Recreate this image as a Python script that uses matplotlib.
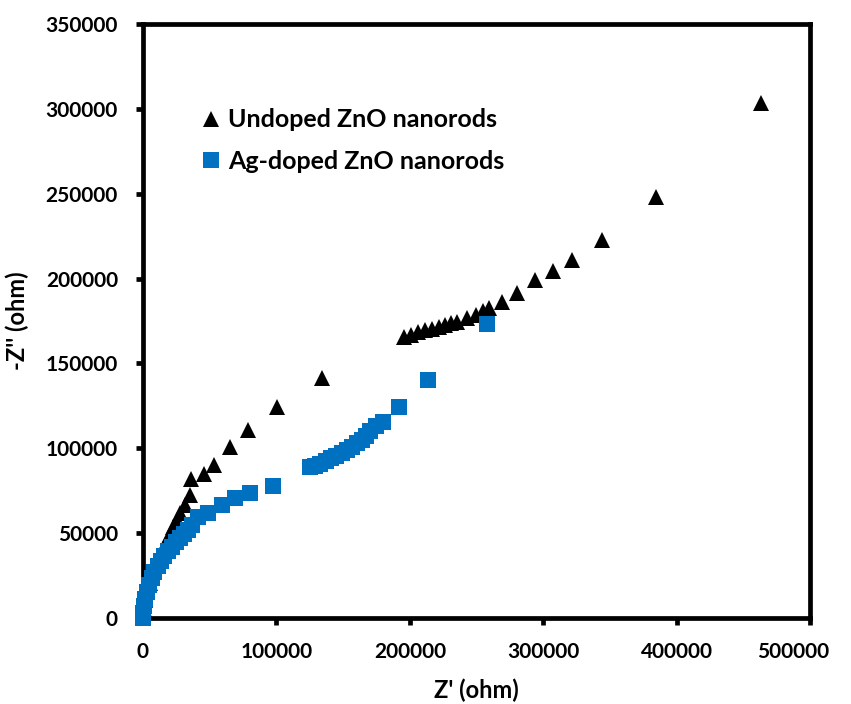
import matplotlib
matplotlib.use("Agg")
import matplotlib.pyplot as plt
import matplotlib.transforms as mtransforms

plt.rcParams['font.family'] = ['Lato', 'DejaVu Sans']
plt.rcParams['font.weight'] = 'bold'

# --------------------------------------------------
# Nyquist data (ohm)
# --------------------------------------------------
z_re_undoped = [0, 800, 1800, 3200, 5000, 7000, 9500, 12000, 14500, 17000, 19500,
                22700, 25200, 27700, 31500, 35200, 35700, 45500, 53500, 65000, 79000,
                100200, 133900, 195500, 201000, 206000, 211500, 216500, 221500, 226500,
                231000, 235500, 243000, 249500, 255000, 259000, 268900, 280100, 293600,
                307100, 321800, 343800, 384300, 463300]
z_im_undoped = [0, 5500, 10500, 15500, 20500, 25500, 30500, 35000, 39500, 44000, 48500,
                53800, 57700, 61700, 66600, 72500, 82000, 84800, 90100, 100900, 110800,
                124100, 141200, 165500, 167000, 168200, 169400, 170500, 171500, 172500,
                173500, 174500, 176500, 178700, 180800, 182500, 186400, 191300, 199100,
                204500, 210900, 222700, 248200, 303400]

z_re_ag = [0, 0, 500, 1500, 3000, 4500, 6500, 8500, 11000, 13500, 16000, 19000, 22000,
           25000, 28000, 31000, 34000, 37000, 41500, 49000, 59000, 69000, 80200, 97700,
           125200, 129000, 133000, 137000, 141000, 145000, 149000, 153000, 157000, 160500,
           164000, 167000, 170500, 175000, 180200, 192100, 213900, 257600]
z_im_ag = [0, 3000, 7000, 11000, 15500, 19500, 23500, 27000, 30500, 33500, 36500, 39500,
           42000, 44500, 47000, 49500, 52000, 54500, 59500, 61700, 66600, 70500, 73500,
           77800, 88700, 89800, 91000, 92500, 94000, 95500, 97000, 99000, 101000, 103000,
           105000, 107500, 110000, 113000, 115700, 124100, 140200, 173200]

labels = ["Undoped ZnO nanorods", "Ag-doped ZnO nanorods"]
x_ticks = [0, 100000, 200000, 300000, 400000, 500000]
y_ticks = [0, 50000, 100000, 150000, 200000, 250000, 300000, 350000]

fig = plt.figure(figsize=(8.51, 7.04), dpi=100)
ax = fig.add_axes([0.168, 0.1222, 0.784, 0.8438])

ax.plot(z_re_undoped, z_im_undoped, linestyle="none", marker="^", ms=11,
        mew=0, color="black", label=labels[0], clip_on=False, zorder=3)
ax.plot(z_re_ag, z_im_ag, linestyle="none", marker="s", ms=12.2,
        mew=0, color="#0070C0", label=labels[1], clip_on=False, zorder=3)

ax.set_xlim(0, 500000)
ax.set_ylim(0, 350000)
ax.set_xticks(x_ticks)
ax.set_yticks(y_ticks)
ax.set_xticklabels([str(v) for v in x_ticks])
ax.set_yticklabels([str(v) for v in y_ticks])

for s in ax.spines.values():
    s.set_linewidth(3.4)
ax.tick_params(direction="out", length=5, width=3.4, labelsize=15)
ax.tick_params(axis="y", pad=13)
ax.tick_params(axis="x", pad=12)

# last x label is pulled left, like the original
last = ax.get_xticklabels()[-1]
last.set_transform(last.get_transform() +
                   mtransforms.ScaledTranslation(-0.17, 0, fig.dpi_scale_trans))

ax.set_xlabel("Z' (ohm)", fontsize=17, fontweight="bold", labelpad=12)
ax.set_ylabel("-Z'' (ohm)", fontsize=17, fontweight="bold", labelpad=12)

ax.legend(loc="upper left", bbox_to_anchor=(0.083, 0.858), frameon=False,
          fontsize=18, handlelength=1.0, handletextpad=0.2, labelspacing=0.75,
          borderaxespad=0, borderpad=0)

fig.savefig("out.png", dpi=100)
